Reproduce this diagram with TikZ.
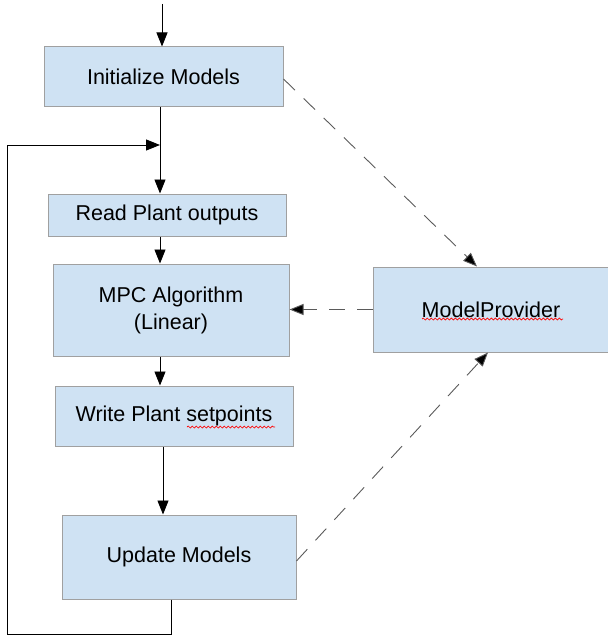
\documentclass[tikz,border=0pt]{standalone}
\usepackage{fontspec}
\setmainfont{Liberation Sans}
\usetikzlibrary{arrows.meta,decorations.pathmorphing}
\definecolor{boxfill}{RGB}{207,226,243}
\definecolor{boxline}{RGB}{160,160,160}
\definecolor{dashgray}{RGB}{90,90,90}
\tikzset{
  box/.style={draw=boxline, fill=boxfill, line width=1pt, rectangle, align=center, inner sep=0pt,
              font=\fontsize{21.5}{27}\selectfont},
  flow/.style={draw=black, line width=0.9pt, -{Triangle[length=14pt,width=11pt]}},
  dep/.style={draw=dashgray, line width=0.9pt, dash pattern=on 16pt off 12pt, -{Triangle[length=14pt,width=11pt,fill=black]}},
  spell/.style={draw=red, line width=0.7pt, decorate, decoration={snake, amplitude=1pt, segment length=4pt}}
}
\begin{document}
\begin{tikzpicture}[x=1pt,y=-1pt]
\useasboundingbox (0,0) rectangle (607,639);
\node[box, minimum width=239pt, minimum height=60pt] (init) at (163.5,77) {Initialize Models};
\node[box, minimum width=238pt, minimum height=42pt] (read) at (167,215) {Read Plant outputs};
\node[box, minimum width=236pt, minimum height=92pt] (mpc) at (171,310) {MPC Algorithm\\(Linear)};
\node[box, minimum width=236pt, minimum height=85pt] (mp) at (491,309.5) {ModelProvider};
\node[box, minimum width=238pt, minimum height=60pt] (write) at (174,416) {Write Plant setpoints};
\node[box, minimum width=234pt, minimum height=84pt] (upd) at (179,557) {Update Models};
% spell-check underlines
\draw[spell] (422,319) -- (563,319);
\draw[spell] (187,427) -- (275,427);
% spine coordinates
\coordinate (start) at (162,4);
\coordinate (join) at (160,145);
\coordinate (fb1) at (171,634);
\coordinate (fb2) at (7,634);
\coordinate (fb3) at (7,145);
\draw[flow] (start) -- (start |- init.north);
\draw[line width=0.9pt] (init.south -| join) -- (join);
\draw[flow] (join) -- (join |- read.north);
\draw[flow] (read.south -| join) -- (join |- mpc.north);
\draw[flow] (mpc.south -| join) -- (join |- write.north);
\draw[flow] (write.south -| 163,0) -- (upd.north -| 163,0);
\draw[flow] (upd.south -| fb1) -- (fb1) -- (fb2) -- (fb3) -- (join);
% dashed dependencies
\draw[dep] ([yshift=-2pt]init.east) -- (mp.north -| 477,0);
\draw[dep] (mp.west) -- (mpc.east |- mp.west);
\draw[dep] ([yshift=-4pt]upd.east) -- (mp.south -| 488,0);
\end{tikzpicture}
\end{document}
